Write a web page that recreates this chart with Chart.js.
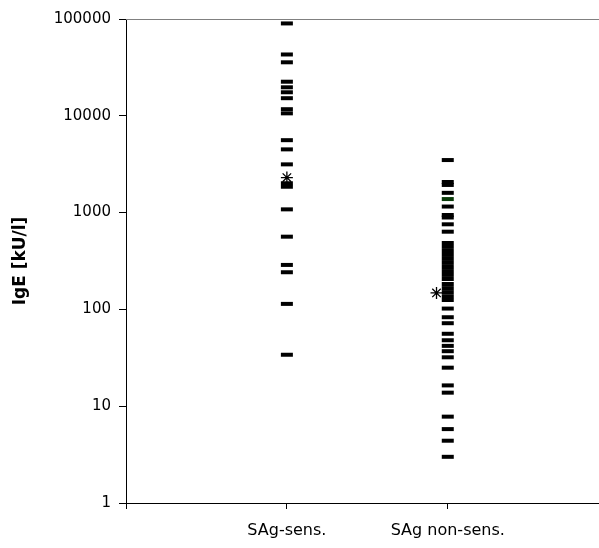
<!DOCTYPE html>
<html>
<head>
<meta charset="utf-8">
<script src="https://cdn.jsdelivr.net/npm/chart.js@4"></script>
<style>
  body { margin: 0; background: #fff; }
  #wrap { width: 599px; height: 548px; }
</style>
</head>
<body>
<div id="wrap"><canvas id="grafica"></canvas></div>
<script>
// grupos
const categorias = ['SAg-sens.', 'SAg non-sens.'];

// IgE kU/l
const sagSens = [90000, 43000, 35700, 22500, 19700, 17500, 15200, 11700, 10600,
  5600, 4500, 3150, 2010, 1850, 1080, 564, 288, 242, 114, 34];

const sagNonSens = [3490, 2070, 1930, 1600, 1155, 945, 890, 757, 635,
  485, 442, 401, 365, 332, 302, 274, 249, 227, 206, 183, 166, 151, 137, 125,
  102, 83, 72, 56, 48, 42, 37, 32, 25, 16.4, 13.8, 7.8, 5.8, 4.4, 3.0];

// el guion verde
const sagNonSensVerde = [1380];

// medianas (asterisco)
const medianas = [2300, 148];
const medianaX = [1, 1.93];

const yTicks = [1, 10, 100, 1000, 10000, 100000];

const toPts = (arr, x) => arr.map(v => ({x: x, y: v}));

const dash = {
  pointStyle: 'line',
  pointRadius: 6,
  pointBorderWidth: 4,
  pointHoverRadius: 6,
  borderColor: '#000',
  backgroundColor: '#000',
  showLine: false
};

const topLine = {
  id: 'topLine',
  afterDraw(chart) {
    const a = chart.chartArea;
    const ctx = chart.ctx;
    ctx.save();
    ctx.strokeStyle = '#808080';
    ctx.lineWidth = 1;
    ctx.beginPath();
    ctx.moveTo(a.left, a.top + 0.5);
    ctx.lineTo(a.right, a.top + 0.5);
    ctx.stroke();
    ctx.restore();
  }
};

const config = {
  type: 'scatter',
  data: {
    datasets: [
      Object.assign({label: categorias[0], data: toPts(sagSens, 1)}, dash),
      Object.assign({label: categorias[1], data: toPts(sagNonSens, 2)}, dash),
      Object.assign({label: 'verde', data: toPts(sagNonSensVerde, 2)}, dash,
        {borderColor: '#0b3d0b', backgroundColor: '#0b3d0b'}),
      {
        label: 'mediana',
        data: medianas.map((v, i) => ({x: medianaX[i], y: v})),
        pointStyle: 'star',
        pointRadius: 6,
        pointBorderWidth: 1.3,
        borderColor: '#000',
        backgroundColor: '#000',
        showLine: false
      }
    ]
  },
  options: {
    responsive: true,
    maintainAspectRatio: false,
    animation: false,
    layout: { autoPadding: false, padding: { top: 19, right: 0, left: 0, bottom: 0 } },
    plugins: { legend: { display: false }, tooltip: { enabled: false } },
    scales: {
      x: {
        type: 'linear',
        min: 0,
        max: 2.94,
        afterBuildTicks(scale) {
          scale.ticks = [{value: 0}, {value: 1}, {value: 2}];
        },
        afterFit(scale) { scale.height = 45; },
        ticks: {
          color: '#000',
          font: { family: 'DejaVu Sans', size: 16 },
          padding: 12,
          maxRotation: 0,
          callback: (v) => (v === 1 ? categorias[0] : v === 2 ? categorias[1] : '')
        },
        grid: { drawOnChartArea: false, tickLength: 6, color: '#000' },
        border: { color: '#000', width: 1 }
      },
      y: {
        type: 'logarithmic',
        min: 1,
        max: 100000,
        afterBuildTicks(scale) {
          scale.ticks = yTicks.map(v => ({value: v}));
        },
        afterFit(scale) { scale.width = 126; },
        ticks: {
          color: '#000',
          font: { family: 'DejaVu Sans', size: 15 },
          padding: 8,
          callback: (v) => String(v)
        },
        title: {
          display: true,
          text: 'IgE [kU/l]',
          color: '#000',
          font: { family: 'DejaVu Sans', size: 17, weight: 'bold' },
          padding: { top: 10, bottom: 0 }
        },
        grid: { drawOnChartArea: false, tickLength: 7, color: '#000' },
        border: { color: '#000', width: 1 }
      }
    }
  },
  plugins: [topLine]
};

const myChart = new Chart(document.getElementById('grafica'), config);
</script>
</body>
</html>
